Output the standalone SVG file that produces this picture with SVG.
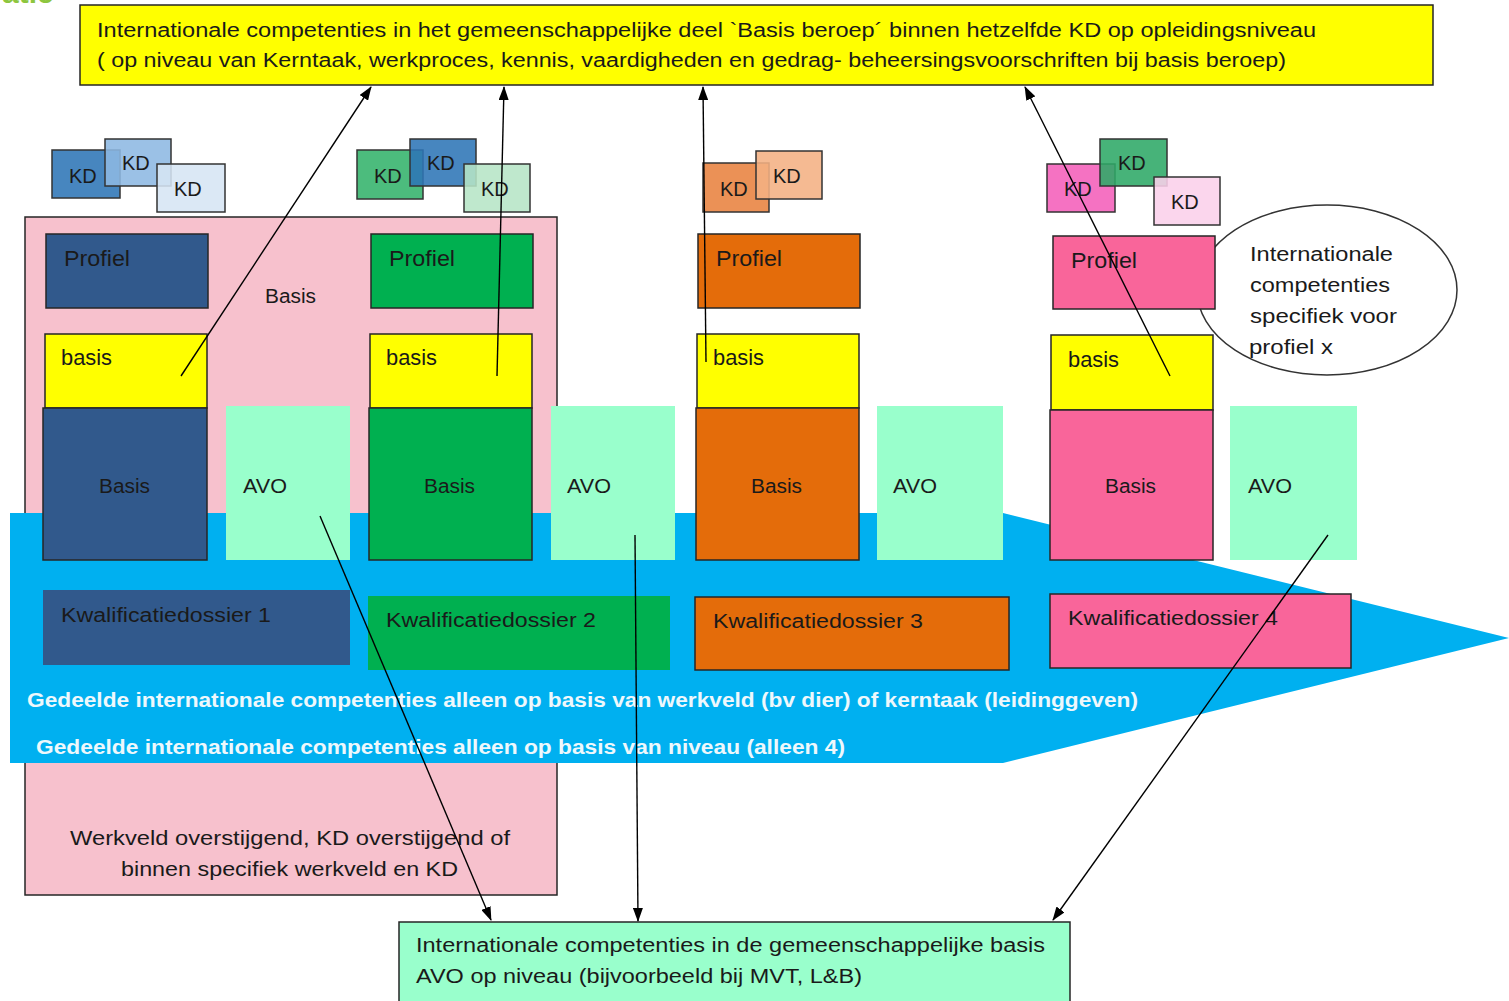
<svg xmlns="http://www.w3.org/2000/svg" width="1509" height="1001" viewBox="0 0 1509 1001">
<defs>
<marker id="ah" markerUnits="userSpaceOnUse" markerWidth="14" markerHeight="10" refX="13" refY="5" orient="auto">
<path d="M0,0 L14,5 L0,10 z" fill="#000"/>
</marker>
<style>
text{font-family:"Liberation Sans",Arial,sans-serif;fill:#1a1a1a;}
.t20{font-size:20px;}
.t22{font-size:22px;}
.b{stroke:#262626;stroke-width:1.5;}
.kd{stroke:#333;stroke-width:1.5;fill-opacity:0.88;}
.db{fill:#31598C;}
.gr{fill:#00B050;}
.or{fill:#E46C0A;}
.pk{fill:#F9659A;}
.ye{fill:#FFFF00;}
.mint{fill:#99FFCC;}
.wt{fill:#EEF8FC;font-weight:bold;font-size:20px;}
.conn line{stroke:#000;stroke-width:1.4;marker-end:url(#ah);}
</style>
</defs>
<rect width="1509" height="1001" fill="#FFFFFF"/>

<text x="2" y="3" style="font-size:30px;font-weight:bold;fill:#8DC63F">atie</text>

<g id="top-box">
<rect x="80" y="5" width="1353" height="80" class="ye b"/>
<text x="97" y="37" class="t20" textLength="1219" lengthAdjust="spacingAndGlyphs">Internationale competenties in het gemeenschappelijke deel `Basis beroep´ binnen hetzelfde KD op opleidingsniveau</text>
<text x="97" y="67" class="t20" textLength="1189" lengthAdjust="spacingAndGlyphs">( op niveau van Kerntaak, werkproces, kennis, vaardigheden en gedrag- beheersingsvoorschriften bij basis beroep)</text>
</g>

<g id="pink-area">
<rect x="25" y="217" width="532" height="678" fill="#F7C1CD" class="b"/>
<text x="265" y="303" class="t20" textLength="51" lengthAdjust="spacingAndGlyphs">Basis</text>
</g>

<g id="ellipse">
<ellipse cx="1327" cy="290" rx="130" ry="85" fill="#FFFFFF" stroke="#333" stroke-width="1.5"/>
<text x="1250" y="261" class="t20" textLength="143" lengthAdjust="spacingAndGlyphs">Internationale</text>
<text x="1250" y="292" class="t20" textLength="140" lengthAdjust="spacingAndGlyphs">competenties</text>
<text x="1250" y="323" class="t20" textLength="147" lengthAdjust="spacingAndGlyphs">specifiek  voor</text>
<text x="1249" y="354" class="t20" textLength="84" lengthAdjust="spacingAndGlyphs">profiel x</text>
</g>

<g id="blue-arrow">
<polygon points="10,513 1003,513 1509,638 1003,763 10,763" fill="#00B0F0"/>
<text x="27" y="707" class="wt" textLength="1111" lengthAdjust="spacingAndGlyphs">Gedeelde internationale competenties  alleen op basis van werkveld (bv dier) of kerntaak (leidinggeven)</text>
<text x="36" y="754" class="wt" textLength="809" lengthAdjust="spacingAndGlyphs">Gedeelde internationale competenties  alleen op basis van niveau (alleen 4)</text>
</g>

<g id="pink-lower-text">
<text x="70" y="845" class="t20" textLength="440" lengthAdjust="spacingAndGlyphs">Werkveld overstijgend, KD overstijgend  of</text>
<text x="121" y="876" class="t20" textLength="337" lengthAdjust="spacingAndGlyphs">binnen specifiek werkveld en KD</text>
</g>

<g id="col1">
<rect x="52" y="150" width="68" height="48" class="kd" fill="#2E75B6"/>
<text x="69" y="183" class="t20">KD</text>
<rect x="105" y="139" width="66" height="47" class="kd" fill="#8DB8E2"/>
<text x="122" y="170" class="t20">KD</text>
<rect x="157" y="164" width="68" height="48" class="kd" fill="#D6E5F4"/>
<text x="174" y="196" class="t20">KD</text>
<rect x="46" y="234" width="162" height="74" class="db b"/>
<text x="64" y="266" class="t22" textLength="66" lengthAdjust="spacingAndGlyphs">Profiel</text>
<rect x="45" y="334" width="162" height="74" class="ye b"/>
<text x="61" y="365" class="t22" textLength="51" lengthAdjust="spacingAndGlyphs">basis</text>
<rect x="43" y="408" width="164" height="152" class="db b"/>
<text x="99" y="493" class="t20" textLength="51" lengthAdjust="spacingAndGlyphs">Basis</text>
<rect x="226" y="406" width="124" height="154" class="mint"/>
<text x="243" y="493" class="t20" textLength="44" lengthAdjust="spacingAndGlyphs">AVO</text>
<rect x="43" y="590" width="307" height="75" class="db"/>
<text x="61" y="622" class="t20" textLength="210" lengthAdjust="spacingAndGlyphs">Kwalificatiedossier 1</text>
</g>

<g id="col2">
<rect x="357" y="150" width="66" height="49" class="kd" fill="#33B36B"/>
<text x="374" y="183" class="t20">KD</text>
<rect x="410" y="139" width="66" height="47" class="kd" fill="#2E75B6"/>
<text x="427" y="170" class="t20">KD</text>
<rect x="464" y="164" width="66" height="48" class="kd" fill="#B6E5C6"/>
<text x="481" y="196" class="t20">KD</text>
<rect x="371" y="234" width="162" height="74" class="gr b"/>
<text x="389" y="266" class="t22" textLength="66" lengthAdjust="spacingAndGlyphs">Profiel</text>
<rect x="370" y="334" width="162" height="74" class="ye b"/>
<text x="386" y="365" class="t22" textLength="51" lengthAdjust="spacingAndGlyphs">basis</text>
<rect x="369" y="408" width="163" height="152" class="gr b"/>
<text x="424" y="493" class="t20" textLength="51" lengthAdjust="spacingAndGlyphs">Basis</text>
<rect x="551" y="406" width="124" height="154" class="mint"/>
<text x="567" y="493" class="t20" textLength="44" lengthAdjust="spacingAndGlyphs">AVO</text>
<rect x="368" y="596" width="302" height="74" class="gr"/>
<text x="386" y="627" class="t20" textLength="210" lengthAdjust="spacingAndGlyphs">Kwalificatiedossier 2</text>
</g>

<g id="col3">
<rect x="703" y="163" width="66" height="49" class="kd" fill="#E8823F"/>
<text x="720" y="196" class="t20">KD</text>
<rect x="756" y="151" width="66" height="48" class="kd" fill="#F4B183"/>
<text x="773" y="183" class="t20">KD</text>
<rect x="698" y="234" width="162" height="74" class="or b"/>
<text x="716" y="266" class="t22" textLength="66" lengthAdjust="spacingAndGlyphs">Profiel</text>
<rect x="697" y="334" width="162" height="74" class="ye b"/>
<text x="713" y="365" class="t22" textLength="51" lengthAdjust="spacingAndGlyphs">basis</text>
<rect x="696" y="408" width="163" height="152" class="or b"/>
<text x="751" y="493" class="t20" textLength="51" lengthAdjust="spacingAndGlyphs">Basis</text>
<rect x="877" y="406" width="126" height="154" class="mint"/>
<text x="893" y="493" class="t20" textLength="44" lengthAdjust="spacingAndGlyphs">AVO</text>
<rect x="695" y="597" width="314" height="73" class="or b"/>
<text x="713" y="628" class="t20" textLength="210" lengthAdjust="spacingAndGlyphs">Kwalificatiedossier 3</text>
</g>

<g id="col4">
<rect x="1047" y="164" width="68" height="48" class="kd" fill="#F45EBA"/>
<text x="1064" y="196" class="t20">KD</text>
<rect x="1100" y="139" width="67" height="47" class="kd" fill="#2EA866"/>
<text x="1118" y="170" class="t20">KD</text>
<rect x="1154" y="177" width="66" height="48" class="kd" fill="#FBD0EA"/>
<text x="1171" y="209" class="t20">KD</text>
<rect x="1053" y="236" width="162" height="73" class="pk b"/>
<text x="1071" y="268" class="t22" textLength="66" lengthAdjust="spacingAndGlyphs">Profiel</text>
<rect x="1051" y="335" width="162" height="75" class="ye b"/>
<text x="1068" y="367" class="t22" textLength="51" lengthAdjust="spacingAndGlyphs">basis</text>
<rect x="1050" y="410" width="163" height="150" class="pk b"/>
<text x="1105" y="493" class="t20" textLength="51" lengthAdjust="spacingAndGlyphs">Basis</text>
<rect x="1230" y="406" width="127" height="154" class="mint"/>
<text x="1248" y="493" class="t20" textLength="44" lengthAdjust="spacingAndGlyphs">AVO</text>
<rect x="1050" y="594" width="301" height="74" class="pk b"/>
<text x="1068" y="625" class="t20" textLength="210" lengthAdjust="spacingAndGlyphs">Kwalificatiedossier 4</text>
</g>

<g id="bottom-box">
<rect x="399" y="922" width="671" height="85" class="mint b"/>
<text x="416" y="952" class="t20" textLength="629" lengthAdjust="spacingAndGlyphs">Internationale competenties in de gemeenschappelijke  basis</text>
<text x="416" y="983" class="t20" textLength="446" lengthAdjust="spacingAndGlyphs">AVO op niveau (bijvoorbeeld  bij MVT, L&amp;B)</text>
</g>

<g id="connectors" class="conn">
<line x1="181" y1="376" x2="371" y2="87"/>
<line x1="497" y1="376" x2="504" y2="87"/>
<line x1="706" y1="362" x2="703" y2="87"/>
<line x1="1170" y1="376" x2="1025" y2="87"/>
<line x1="320" y1="516" x2="491" y2="920"/>
<line x1="635" y1="535" x2="638" y2="921"/>
<line x1="1328" y1="535" x2="1053" y2="920"/>
</g>
</svg>
